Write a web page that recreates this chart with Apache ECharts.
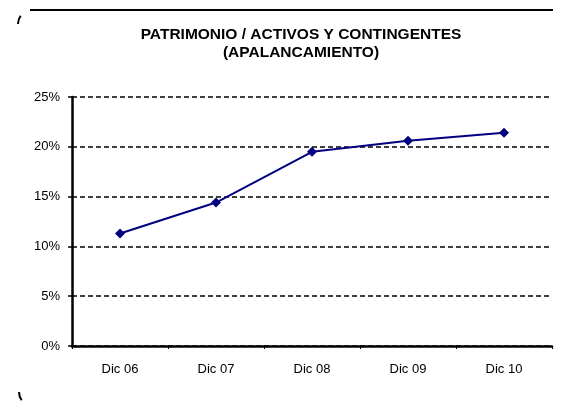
<!DOCTYPE html>
<html>
<head>
<meta charset="utf-8">
<script src="https://cdn.jsdelivr.net/npm/echarts@6/dist/echarts.min.js"></script>
<style>
  html, body { margin: 0; padding: 0; background: #fff; }
  #chart { width: 561px; height: 401px; }
</style>
</head>
<body>
<div id="chart"></div>
<script>
// data
const categories = ["Dic 06", "Dic 07", "Dic 08", "Dic 09", "Dic 10"];
const leverage = [11.3, 14.4, 19.5, 20.6, 21.4];
const yTicks = [0, 5, 10, 15, 20, 25];

const chart = echarts.init(document.getElementById("chart"));
const font = "Arial, 'Liberation Sans', sans-serif";

chart.setOption({
  backgroundColor: "#fff",
  animation: false,
  title: {
    text: "PATRIMONIO / ACTIVOS Y CONTINGENTES\n(APALANCAMIENTO)",
    left: 296,
    top: 21,
    textAlign: "center",
    textStyle: {
      fontFamily: font,
      fontSize: 15.5,
      fontWeight: "bold",
      color: "#000",
      lineHeight: 18
    }
  },
  graphic: [
    // remains of the rounded frame
    {
      type: "line",
      shape: { x1: 30, y1: 10, x2: 553, y2: 10 },
      style: { stroke: "#000", lineWidth: 2 }
    },
    {
      type: "arc",
      shape: { cx: 32, cy: 24, r: 14, startAngle: Math.PI, endAngle: Math.PI * 1.2 },
      style: { stroke: "#000", lineWidth: 2, fill: null }
    },
    {
      type: "arc",
      shape: { cx: 33, cy: 392, r: 14, startAngle: Math.PI * 0.8, endAngle: Math.PI },
      style: { stroke: "#000", lineWidth: 2, fill: null }
    }
  ],
  grid: {
    left: 72,
    right: 9,
    top: 97,
    bottom: 55,
    containLabel: false
  },
  xAxis: {
    type: "category",
    data: categories,
    boundaryGap: true,
    axisLine: { lineStyle: { color: "#000", width: 2.5 } },
    axisTick: { show: true, length: 3, lineStyle: { color: "#000", width: 1 } },
    axisLabel: {
      margin: 17,
      fontFamily: font,
      fontSize: 13,
      color: "#000"
    }
  },
  yAxis: {
    type: "value",
    min: yTicks[0],
    max: yTicks[yTicks.length - 1],
    interval: 5,
    axisLine: { show: true, lineStyle: { color: "#000", width: 2.5 } },
    axisTick: { show: true, length: 4, lineStyle: { color: "#000", width: 1.5 } },
    axisLabel: {
      margin: 12,
      fontFamily: font,
      fontSize: 13,
      color: "#000",
      formatter: v => v + "%"
    },
    splitLine: {
      show: true,
      lineStyle: { color: "#000", width: 1.5, type: [5, 3] }
    }
  },
  series: [
    {
      type: "line",
      data: leverage,
      symbol: "diamond",
      symbolSize: 10,
      lineStyle: { color: "#000080", width: 2 },
      itemStyle: { color: "#000080" }
    }
  ]
});
</script>
</body>
</html>
